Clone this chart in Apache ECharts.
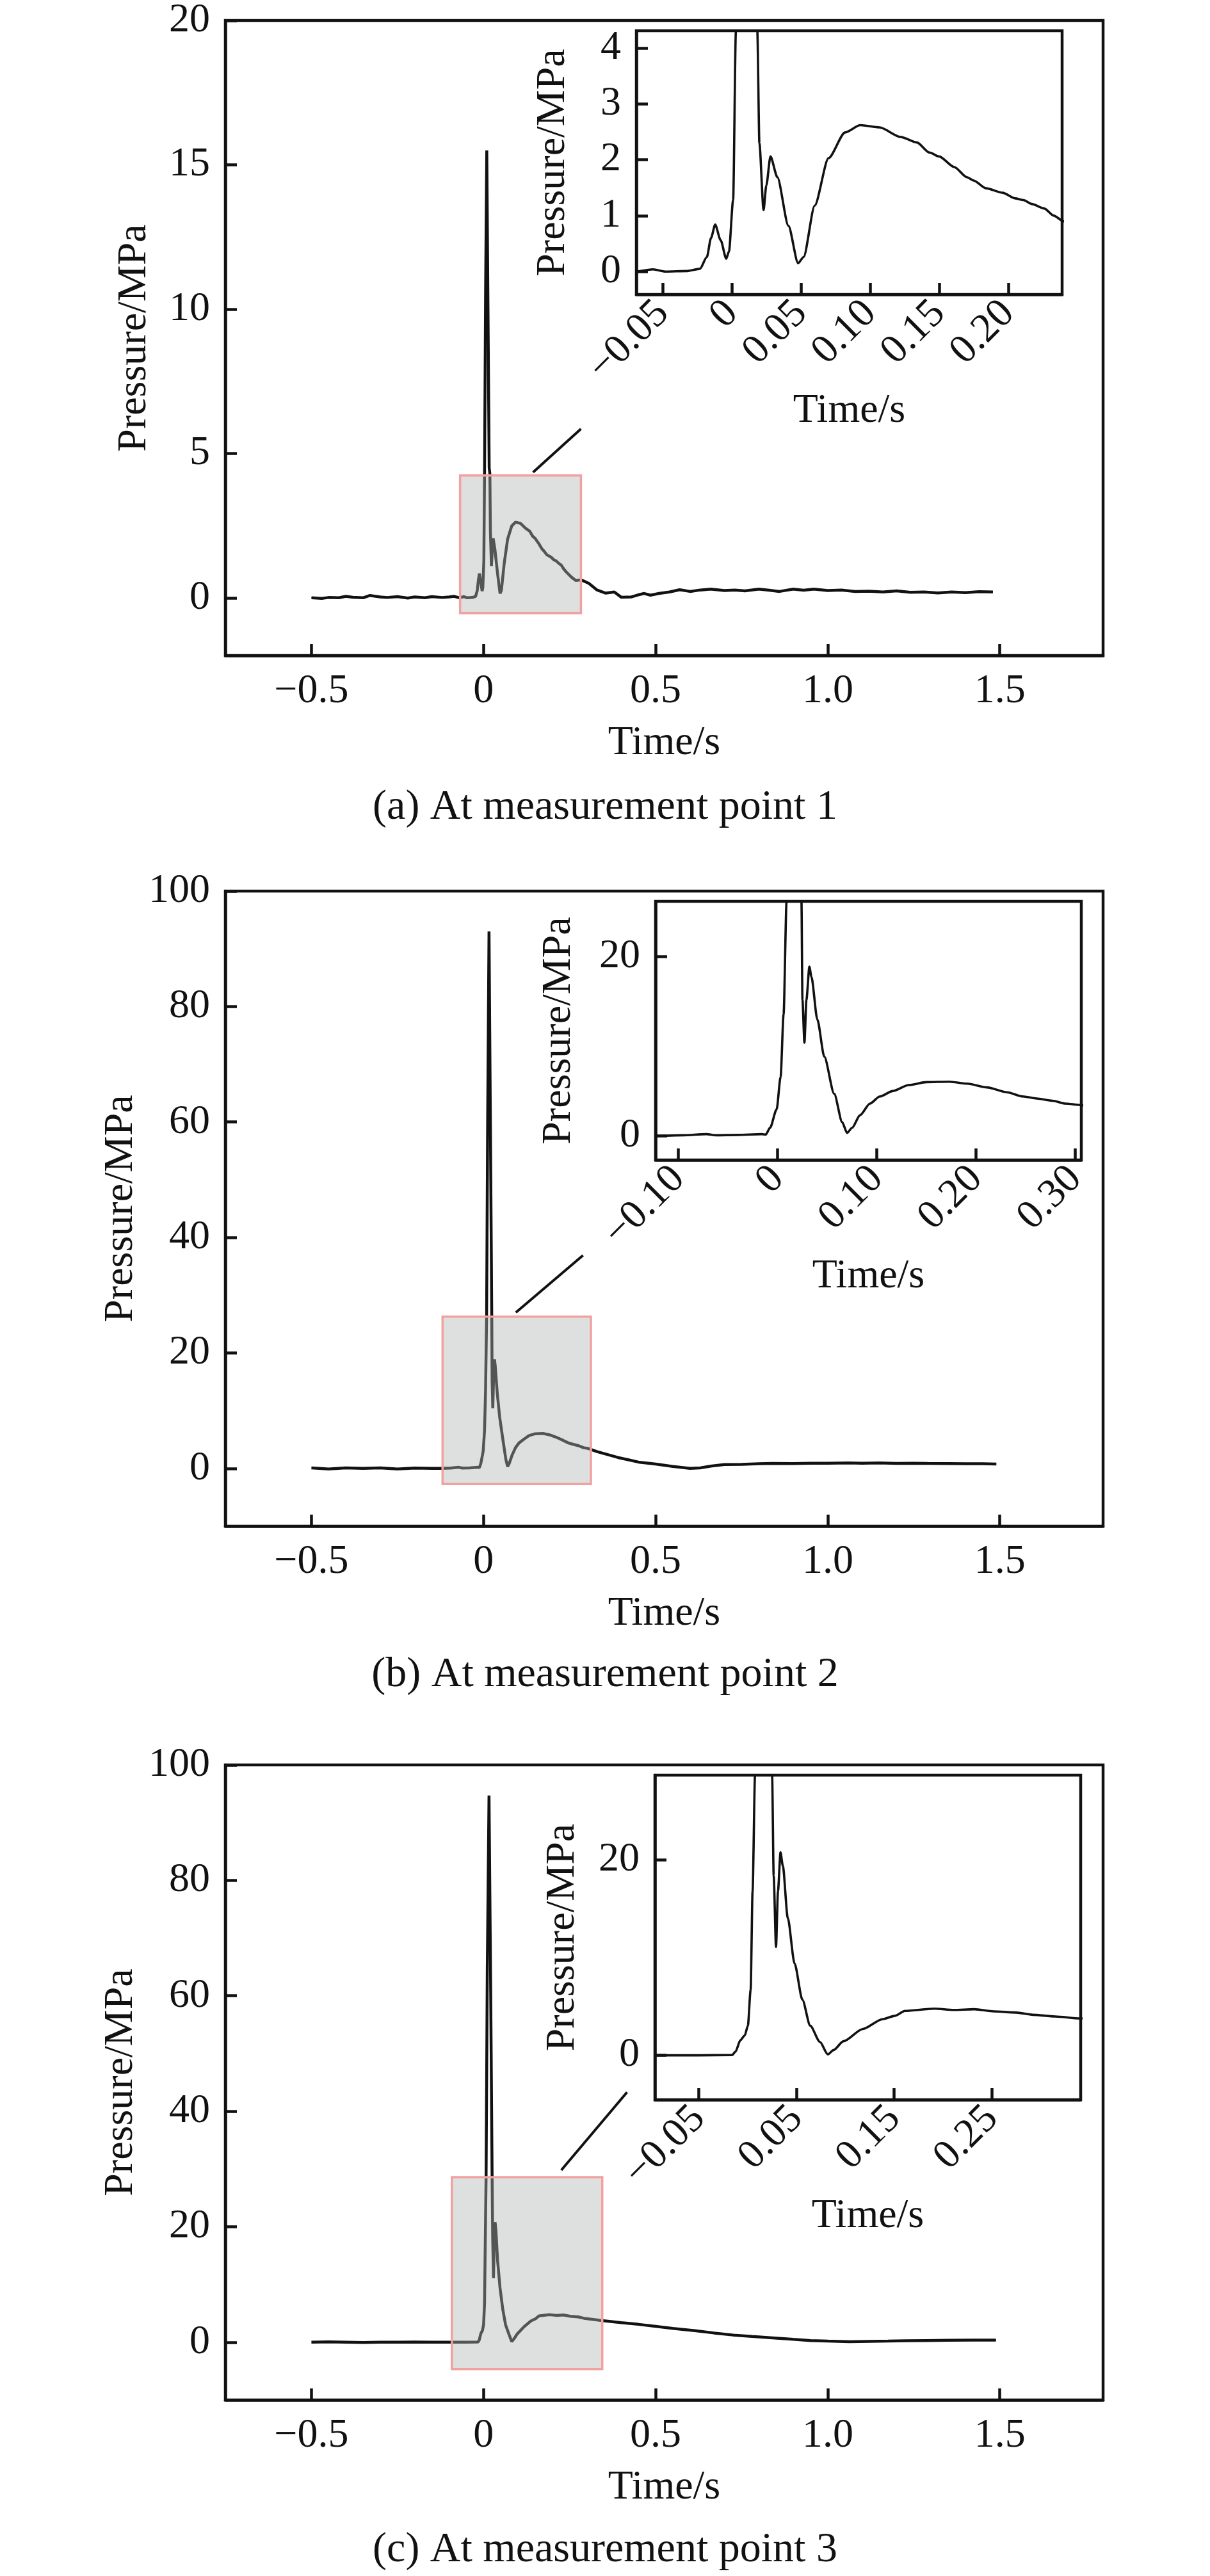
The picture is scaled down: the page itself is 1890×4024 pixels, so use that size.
<!DOCTYPE html>
<html>
<head>
<meta charset="utf-8">
<title>Pressure at measurement points</title>
<script src="https://cdn.jsdelivr.net/npm/echarts@6/dist/echarts.min.js"></script>
<style>
  html, body { margin: 0; padding: 0; background: #fff; }
  #main { width: 1890px; height: 4024px; }
</style>
</head>
<body>
<div id="main"></div>
<script>
// ---- data ----
// (a) measurement point 1
const timeA = [-0.5, -0.47, -0.45, -0.42, -0.40, -0.38, -0.35, -0.33, -0.30, -0.28, -0.25, -0.22, -0.20, -0.17,
  -0.15, -0.12, -0.10, -0.085, -0.07, -0.057, -0.048, -0.032, -0.023, -0.018, -0.015, -0.012, -0.008, -0.004,
  -0.002, 0.001, 0.003, 0.006, 0.0095, 0.013, 0.0165, 0.0185, 0.020, 0.023, 0.025, 0.028, 0.033, 0.041, 0.048,
  0.052, 0.060, 0.070, 0.082, 0.093, 0.107, 0.122, 0.134, 0.143, 0.150, 0.161, 0.170, 0.175, 0.184, 0.196,
  0.205, 0.211, 0.217, 0.226, 0.233, 0.240, 0.255, 0.268, 0.284, 0.306, 0.33, 0.355, 0.38, 0.40, 0.43, 0.449,
  0.467, 0.485, 0.51, 0.54, 0.57, 0.60, 0.63, 0.66, 0.70, 0.73, 0.76, 0.80, 0.83, 0.86, 0.90, 0.93, 0.96,
  1.00, 1.04, 1.08, 1.12, 1.16, 1.20, 1.24, 1.28, 1.32, 1.36, 1.40, 1.44, 1.48];
const pressA = [0.0, -0.02, 0.01, 0.0, 0.05, 0.02, 0.0, 0.08, 0.03, 0.01, 0.04, -0.01, 0.03, 0.0,
  0.04, 0.01, 0.03, 0.05, 0.0, 0.04, 0.0, 0.01, 0.05, 0.26, 0.6, 0.84, 0.56, 0.23,
  0.36, 1.28, 4.3, 10.5, 15.5, 10.0, 4.5, 4.3, 2.3, 1.1, 1.54, 2.06, 1.69, 0.82, 0.15,
  0.26, 1.18, 2.03, 2.49, 2.62, 2.58, 2.41, 2.31, 2.13, 2.06, 1.87, 1.69, 1.63, 1.49, 1.41,
  1.31, 1.28, 1.21, 1.13, 1.0, 0.9, 0.72, 0.6, 0.62, 0.5, 0.27, 0.16, 0.2, 0.02, 0.03, 0.1,
  0.15, 0.09, 0.15, 0.2, 0.28, 0.22, 0.27, 0.3, 0.25, 0.27, 0.24, 0.3, 0.26, 0.22, 0.3, 0.26, 0.3,
  0.25, 0.27, 0.22, 0.23, 0.2, 0.24, 0.19, 0.2, 0.17, 0.2, 0.18, 0.21, 0.2];

// (b) measurement point 2
const timeB = [-0.5, -0.45, -0.40, -0.35, -0.30, -0.25, -0.20, -0.15, -0.121, -0.095, -0.072, -0.062, -0.04,
  -0.016, -0.012, -0.0076, -0.001, 0.003, 0.006, 0.009, 0.012, 0.016, 0.020, 0.024, 0.025, 0.027, 0.029,
  0.032, 0.034, 0.040, 0.047, 0.057, 0.065, 0.070, 0.075, 0.083, 0.093, 0.103, 0.116, 0.132, 0.150, 0.173,
  0.191, 0.211, 0.231, 0.247, 0.261, 0.277, 0.290, 0.305, 0.33, 0.36, 0.39, 0.42, 0.45, 0.50, 0.55, 0.60,
  0.63, 0.66, 0.70, 0.75, 0.80, 0.84, 0.90, 0.95, 1.00, 1.06, 1.10, 1.15, 1.20, 1.25, 1.29, 1.35, 1.40,
  1.45, 1.49];
const pressB = [0.1, -0.1, 0.1, 0.0, 0.1, -0.1, 0.05, 0.0, 0.0, 0.06, 0.19, 0.06, 0.1,
  0.19, 0.13, 0.9, 2.96, 6.6, 13.6, 26.2, 60, 93, 60, 26.2, 15.2, 10.4, 15.2,
  18.9, 17.8, 13.0, 8.85, 4.7, 1.53, 0.32, 0.89, 2.3, 3.6, 4.4, 5.0, 5.67, 6.0, 6.05,
  5.83, 5.41, 4.87, 4.4, 4.17, 3.92, 3.6, 3.44, 2.9, 2.4, 1.9, 1.5, 1.1, 0.76, 0.35, 0.0,
  0.1, 0.4, 0.67, 0.7, 0.8, 0.86, 0.85, 0.9, 0.9, 0.95, 0.9, 0.95, 0.88, 0.9, 0.86, 0.85, 0.82,
  0.8, 0.76];

// (c) measurement point 3
const timeC = [-0.5, -0.45, -0.40, -0.35, -0.30, -0.25, -0.20, -0.15, -0.094, -0.05, -0.016, -0.0125, -0.0075,
  -0.003, 0.0002, 0.003, 0.005, 0.0075, 0.011, 0.016, 0.021, 0.025, 0.0266, 0.029, 0.031, 0.0336, 0.036,
  0.041, 0.048, 0.056, 0.064, 0.074, 0.082, 0.088, 0.098, 0.118, 0.138, 0.151, 0.161, 0.191, 0.211, 0.232,
  0.252, 0.275, 0.292, 0.315, 0.340, 0.40, 0.45, 0.50, 0.55, 0.614, 0.67, 0.726, 0.78, 0.839, 0.90, 0.95,
  1.00, 1.063, 1.12, 1.175, 1.23, 1.287, 1.35, 1.42, 1.489];
const pressC = [0.0, 0.05, 0.0, -0.05, 0.02, 0.0, 0.03, 0.0, 0.0, 0.0, 0.03, 0.37, 1.54,
  2.04, 3.04, 6.7, 16.8, 28.7, 65, 94.7, 60, 28.7, 18.4, 11.1, 16.8, 20.8, 19.4,
  14.1, 9.4, 5.7, 3.04, 1.37, 0.1, 0.54, 1.44, 2.7, 3.7, 4.05, 4.55, 4.78, 4.65, 4.72,
  4.5, 4.38, 4.15, 3.98, 3.78, 3.4, 3.1, 2.76, 2.4, 2.0, 1.6, 1.24, 1.0, 0.76, 0.5, 0.29,
  0.2, 0.1, 0.15, 0.19, 0.25, 0.29, 0.33, 0.36, 0.38];

// tick values and labels
const mainXTicks = [-0.5, 0, 0.5, 1.0, 1.5];
const mainXLabels = ['\u22120.5', '0', '0.5', '1.0', '1.5'];
const mainYTicksA = [0, 5, 10, 15, 20];
const mainYTicksBC = [0, 20, 40, 60, 80, 100];
const insetXTicksA = [-0.05, 0, 0.05, 0.10, 0.15, 0.20];
const insetXLabelsA = ['\u22120.05', '0', '0.05', '0.10', '0.15', '0.20'];
const insetXTicksB = [-0.10, 0, 0.10, 0.20, 0.30];
const insetXLabelsB = ['\u22120.10', '0', '0.10', '0.20', '0.30'];
const insetXTicksC = [-0.05, 0.05, 0.15, 0.25];
const insetXLabelsC = ['\u22120.05', '0.05', '0.15', '0.25'];
const insetYTicksA = [0, 1, 2, 3, 4];
const insetYTicksBC = [0, 20];

// zoomed window [x0, y0, x1, y1] and connector end points, in data units
const zoomBoxA = [-0.068, -0.53, 0.283, 4.24];
const zoomBoxB = [-0.119, -2.7, 0.312, 26.3];
const zoomBoxC = [-0.092, -4.66, 0.345, 28.6];
const leaderA = [[0.144, 4.35], [0.283, 5.85]];
const leaderB = [[0.094, 27.0], [0.289, 36.9]];
const leaderC = [[0.226, 29.8], [0.417, 43.3]];

const captions = ['(a) At measurement point 1', '(b) At measurement point 2', '(c) At measurement point 3'];

// ---- layout ----
const FONT = "'Liberation Serif', 'Times New Roman', serif";
const INK = '#111';

const panels = [
  {
    t: timeA, p: pressA, box: zoomBoxA, leader: leaderA, caption: captions[0], captionTop: 1229,
    main: { top: 32, yMin: -2, yMax: 20, yTicks: mainYTicksA, yNameGap: 110 },
    inset: { left: 994, top: 48, width: 665, height: 412, xMin: -0.069, xMax: 0.239, yMin: -0.41, yMax: 4.31,
      xTicks: insetXTicksA, xLabels: insetXLabelsA, yTicks: insetYTicksA, yNameGap: 98 }
  },
  {
    t: timeB, p: pressB, box: zoomBoxB, leader: leaderB, caption: captions[1], captionTop: 2584,
    main: { top: 1392, yMin: -10, yMax: 100, yTicks: mainYTicksBC, yNameGap: 123 },
    inset: { left: 1024, top: 1408, width: 665, height: 404, xMin: -0.123, xMax: 0.306, yMin: -2.7, yMax: 26.2,
      xTicks: insetXTicksB, xLabels: insetXLabelsB, yTicks: insetYTicksBC, yNameGap: 119 }
  },
  {
    t: timeC, p: pressC, box: zoomBoxC, leader: leaderC, caption: captions[2], captionTop: 3951,
    main: { top: 2757, yMin: -10, yMax: 100, yTicks: mainYTicksBC, yNameGap: 123 },
    inset: { left: 1023, top: 2773, width: 665, height: 507, xMin: -0.095, xMax: 0.341, yMin: -4.55, yMax: 28.7,
      xTicks: insetXTicksC, xLabels: insetXLabelsC, yTicks: insetYTicksBC, yNameGap: 112 }
  }
];

function labelFor(ticks, labels) {
  return function (v) {
    for (let i = 0; i < ticks.length; i++) {
      if (Math.abs(v - ticks[i]) < 1e-9) return labels[i];
    }
    return '';
  };
}

function valueAxis(gridIndex, min, max, ticks, fmt, extra) {
  return Object.assign({
    type: 'value',
    gridIndex: gridIndex,
    min: min,
    max: max,
    axisLine: { show: true, onZero: false, lineStyle: { color: INK, width: 4.5 } },
    splitLine: { show: false },
    axisTick: { show: true, inside: true, length: 18, customValues: ticks, lineStyle: { color: INK, width: 4.5 } },
    axisLabel: {
      customValues: ticks, formatter: fmt, margin: 24,
      color: INK, fontSize: 64, fontFamily: FONT
    },
    nameLocation: 'middle',
    nameTextStyle: { color: INK, fontSize: 64, fontFamily: FONT }
  }, extra || {});
}

const option = {
  animation: false,
  backgroundColor: '#fff',
  textStyle: { fontFamily: FONT },
  title: [],
  grid: [],
  xAxis: [],
  yAxis: [],
  series: []
};

panels.forEach(function (pn, k) {
  const gMain = k * 2;
  const gInset = k * 2 + 1;
  const pts = pn.t.map(function (t, i) { return [t, pn.p[i]]; });

  option.title.push({
    text: pn.caption, left: 'center', top: pn.captionTop, padding: 0,
    textStyle: { color: INK, fontSize: 66, fontWeight: 'normal', fontFamily: FONT }
  });

  option.grid.push({
    left: 352, top: pn.main.top, width: 1371, height: 992,
    show: true, borderColor: INK, borderWidth: 4.5, backgroundColor: 'transparent'
  });
  option.grid.push({
    left: pn.inset.left, top: pn.inset.top, width: pn.inset.width, height: pn.inset.height,
    show: true, borderColor: INK, borderWidth: 4.5, backgroundColor: 'transparent'
  });

  option.xAxis.push(valueAxis(gMain, -0.75, 1.8, mainXTicks, labelFor(mainXTicks, mainXLabels),
    { name: 'Time/s', nameGap: 105, position: 'bottom' }));
  option.xAxis.push(valueAxis(gInset, pn.inset.xMin, pn.inset.xMax, pn.inset.xTicks,
    labelFor(pn.inset.xTicks, pn.inset.xLabels), { name: 'Time/s', nameGap: 143, position: 'bottom' }));
  option.xAxis[gInset].axisLabel.rotate = 45;
  option.xAxis[gInset].axisLabel.margin = 20;

  option.yAxis.push(valueAxis(gMain, pn.main.yMin, pn.main.yMax, pn.main.yTicks,
    function (v) { return String(v); }, { name: 'Pressure/MPa', nameGap: pn.main.yNameGap, position: 'left' }));
  option.yAxis.push(valueAxis(gInset, pn.inset.yMin, pn.inset.yMax, pn.inset.yTicks,
    function (v) { return String(v); }, { name: 'Pressure/MPa', nameGap: pn.inset.yNameGap, position: 'left' }));

  // main trace
  option.series.push({
    type: 'line', xAxisIndex: gMain, yAxisIndex: gMain, data: pts,
    showSymbol: false, symbol: 'none', z: 2,
    lineStyle: { color: INK, width: 4.5 }
  });
  // enlarged trace in the inset
  option.series.push({
    type: 'line', xAxisIndex: gInset, yAxisIndex: gInset, data: pts,
    showSymbol: false, symbol: 'none', z: 2, clip: true,
    smooth: 0.25, smoothMonotone: 'x',
    lineStyle: { color: INK, width: 3.6 }
  });
  // shaded zoom window, drawn over the trace
  option.series.push({
    type: 'custom', xAxisIndex: gMain, yAxisIndex: gMain, z: 5,
    data: [pn.box], encode: { x: [0, 2], y: [1, 3] },
    renderItem: function (params, api) {
      const a = api.coord([api.value(0), api.value(3)]);
      const b = api.coord([api.value(2), api.value(1)]);
      return {
        type: 'rect',
        shape: { x: a[0], y: a[1], width: b[0] - a[0], height: b[1] - a[1] },
        style: { fill: 'rgba(176,181,179,0.42)', stroke: '#f2a0a0', lineWidth: 3.5 }
      };
    }
  });
  // leader line towards the inset
  option.series.push({
    type: 'line', xAxisIndex: gMain, yAxisIndex: gMain, data: pn.leader,
    showSymbol: false, symbol: 'none', z: 6,
    lineStyle: { color: INK, width: 4 }
  });
});

const chart = echarts.init(document.getElementById('main'), null, { renderer: 'canvas' });
chart.setOption(option);
</script>
</body>
</html>
